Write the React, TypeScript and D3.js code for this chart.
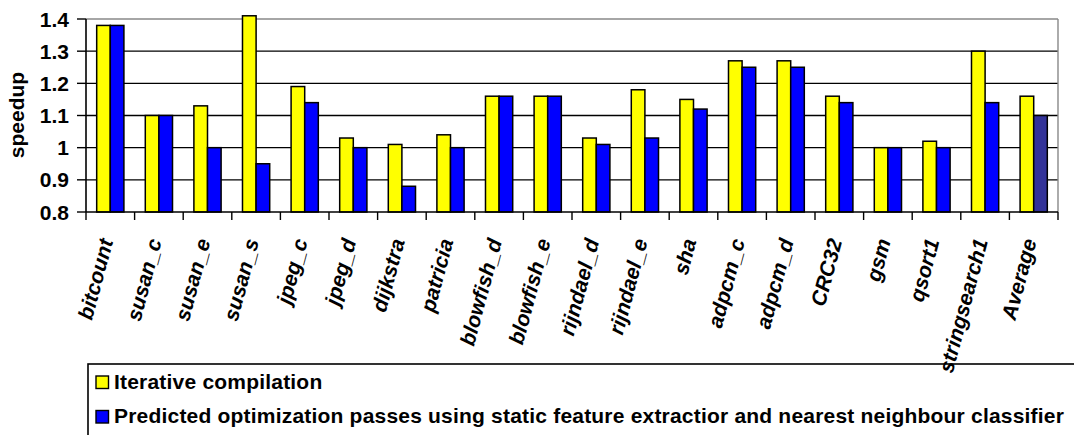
import React, { useEffect } from "react";
import * as d3 from "d3";

const categories = ["bitcount","susan_c","susan_e","susan_s","jpeg_c","jpeg_d","dijkstra","patricia","blowfish_d","blowfish_e","rijndael_d","rijndael_e","sha","adpcm_c","adpcm_d","CRC32","gsm","qsort1","stringsearch1","Average"];
const iterative = [1.38,1.10,1.13,1.41,1.19,1.03,1.01,1.04,1.16,1.16,1.03,1.18,1.15,1.27,1.27,1.16,1.00,1.02,1.30,1.16];
const predicted = [1.38,1.10,1.00,0.95,1.14,1.00,0.88,1.00,1.16,1.16,1.01,1.03,1.12,1.25,1.25,1.14,1.00,1.00,1.14,1.10];
const yTicks = [0.8,0.9,1,1.1,1.2,1.3,1.4];
const seriesNames = ["Iterative compilation","Predicted optimization passes using static feature extractior and nearest neighbour classifier"];

const W = 1074, H = 435;
const left = 86, right = 1058, top = 19, bottom = 212;
const FONT = "'Liberation Sans', Arial, Helvetica, sans-serif";
const FS = 21;

export default function App() {
  useEffect(() => { document.body.style.margin = "0"; }, []);
  const x = d3.scaleBand<string>().domain(categories).range([left, right]).paddingInner(0).paddingOuter(0);
  const y = d3.scaleLinear().domain([0.8, 1.4]).range([bottom, top]);
  const bw = x.bandwidth();
  const barW = bw * 0.28;
  const off = (bw - 2 * barW) / 2;
  return (
    <svg width={W} height={H} style={{ display: "block", background: "#fff" }} fontFamily={FONT}>
      {yTicks.filter(t => t < 1.4 && t > 0.8).map(t => (
        <line key={"g"+t} x1={left} x2={right} y1={y(t)} y2={y(t)} stroke="#000" strokeWidth={1.4} />
      ))}
      <line x1={left} x2={right} y1={y(1.4)} y2={y(1.4)} stroke="#888" strokeWidth={1.4} />
      <line x1={right} x2={right} y1={y(1.4)} y2={bottom} stroke="#888" strokeWidth={1.4} />
      {categories.map((c, i) => (
        <g key={c}>
          <rect x={x(c)! + off} y={y(iterative[i])} width={barW} height={bottom - y(iterative[i])} fill="#ffff00" stroke="#000" strokeWidth={1.5} />
          <rect x={x(c)! + off + barW} y={y(predicted[i])} width={barW} height={bottom - y(predicted[i])} fill={c === "Average" ? "#333399" : "#0000ff"} stroke="#000" strokeWidth={1.5} />
        </g>
      ))}
      <line x1={left} x2={left} y1={top} y2={bottom} stroke="#000" strokeWidth={1.6} />
      <line x1={left} x2={right} y1={bottom} y2={bottom} stroke="#000" strokeWidth={1.6} />
      {yTicks.map(t => (
        <g key={"t"+t}>
          <line x1={left - 9} x2={left} y1={y(t)} y2={y(t)} stroke="#000" strokeWidth={1.4} />
          <text x={left - 17} y={y(t)} dy="0.36em" textAnchor="end" fontWeight="bold" fontSize={FS}>{d3.format("")(t)}</text>
        </g>
      ))}
      {categories.concat(["_end"]).map((c, i) => {
        const xx = left + i * bw;
        return <line key={"xt"+i} x1={xx} x2={xx} y1={bottom} y2={bottom + 8} stroke="#000" strokeWidth={1.4} />;
      })}
      {categories.map(c => {
        const cx = x(c)! + bw / 2 + 3;
        const cy = 241;
        return (
          <text key={"l"+c} transform={`translate(${cx},${cy}) rotate(-75)`} textAnchor="end" fontWeight="bold" fontStyle="italic" fontSize={FS}>{c}</text>
        );
      })}
      <text transform={`translate(24,115) rotate(-90)`} textAnchor="middle" fontWeight="bold" fontSize={FS}>speedup</text>
      <rect x={88} y={364} width={W + 10} height={100} fill="none" stroke="#000" strokeWidth={1.6} />
      {seriesNames.map((s, i) => (
        <g key={s}>
          <rect x={96} y={376 + i * 34.5} width={12.5} height={12.5} fill={i === 0 ? "#ffff00" : "#0000ff"} stroke="#000" strokeWidth={1.4} />
          <text x={114} y={388.5 + i * 34.5} fontWeight="bold" fontSize={FS} letterSpacing={0.2}>{s}</text>
        </g>
      ))}
    </svg>
  );
}
